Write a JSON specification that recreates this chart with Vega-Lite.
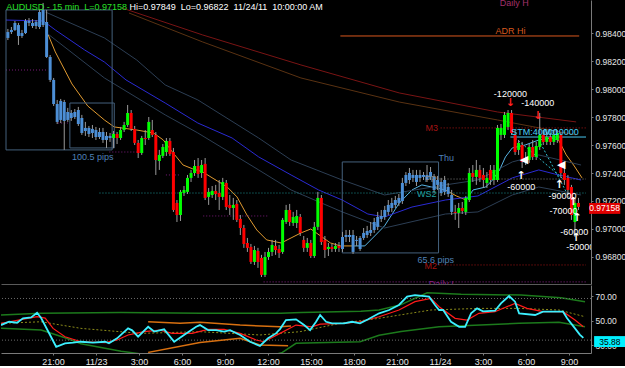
{
"$schema":"https://vega.github.io/schema/vega-lite/v6.json",
"background":"#000000",
"padding":0,
"spacing":1,
"resolve":{"scale":{"x":"independent","y":"independent"}},
"config":{
 "view":{"stroke":null},
 "axis":{"labelColor":"#e6e6e6","labelFont":"Liberation Sans","labelFontSize":9,"domainColor":"#7a7a7a","tickColor":"#7a7a7a","grid":false,"title":null},
 "text":{"font":"Liberation Sans","fontSize":9}
},
"datasets":{
"cd":[
{"t":"2011-11-22T17:30Z","o":0.98365,"h":0.98429,"l":0.98350,"c":0.98407,"a":1},
{"t":"2011-11-22T17:45Z","o":0.98407,"h":0.98443,"l":0.98393,"c":0.98422,"a":1},
{"t":"2011-11-22T18:00Z","o":0.98422,"h":0.98486,"l":0.98415,"c":0.98472,"a":1},
{"t":"2011-11-22T18:15Z","o":0.98457,"h":0.98472,"l":0.98315,"c":0.98379,"a":1},
{"t":"2011-11-22T18:30Z","o":0.98379,"h":0.98422,"l":0.98365,"c":0.98400,"a":1},
{"t":"2011-11-22T18:45Z","o":0.98400,"h":0.98500,"l":0.98393,"c":0.98486,"a":1},
{"t":"2011-11-22T19:00Z","o":0.98486,"h":0.98507,"l":0.98450,"c":0.98472,"a":1},
{"t":"2011-11-22T19:15Z","o":0.98472,"h":0.98500,"l":0.98436,"c":0.98450,"a":1},
{"t":"2011-11-22T19:30Z","o":0.98450,"h":0.98493,"l":0.98429,"c":0.98479,"a":1},
{"t":"2011-11-22T19:45Z","o":0.98443,"h":0.98565,"l":0.98429,"c":0.98550,"a":1},
{"t":"2011-11-22T20:00Z","o":0.98457,"h":0.98615,"l":0.98443,"c":0.98565,"a":1},
{"t":"2011-11-22T20:15Z","o":0.98479,"h":0.98565,"l":0.98222,"c":0.98229,"a":1},
{"t":"2011-11-22T20:30Z","o":0.98229,"h":0.98243,"l":0.98050,"c":0.98065,"a":1},
{"t":"2011-11-22T20:45Z","o":0.98065,"h":0.98079,"l":0.97879,"c":0.97893,"a":1},
{"t":"2011-11-22T21:00Z","o":0.97893,"h":0.97922,"l":0.97750,"c":0.97765,"a":1},
{"t":"2011-11-22T21:15Z","o":0.97779,"h":0.97929,"l":0.97757,"c":0.97915,"a":1},
{"t":"2011-11-22T21:30Z","o":0.97907,"h":0.97922,"l":0.97565,"c":0.97772,"a":1},
{"t":"2011-11-22T21:45Z","o":0.97779,"h":0.97865,"l":0.97765,"c":0.97836,"a":1},
{"t":"2011-11-22T22:00Z","o":0.97829,"h":0.97850,"l":0.97772,"c":0.97793,"a":1},
{"t":"2011-11-22T22:15Z","o":0.97800,"h":0.97857,"l":0.97786,"c":0.97836,"a":1},
{"t":"2011-11-22T22:30Z","o":0.97850,"h":0.97872,"l":0.97736,"c":0.97750,"a":1},
{"t":"2011-11-22T22:45Z","o":0.97793,"h":0.97815,"l":0.97672,"c":0.97686,"a":1},
{"t":"2011-11-22T23:00Z","o":0.97700,"h":0.97765,"l":0.97665,"c":0.97722,"a":1},
{"t":"2011-11-22T23:15Z","o":0.97722,"h":0.97736,"l":0.97657,"c":0.97679,"a":1},
{"t":"2011-11-22T23:30Z","o":0.97686,"h":0.97743,"l":0.97650,"c":0.97715,"a":1},
{"t":"2011-11-22T23:45Z","o":0.97707,"h":0.97729,"l":0.97636,"c":0.97657,"a":1},
{"t":"2011-11-23T00:00Z","o":0.97657,"h":0.97722,"l":0.97643,"c":0.97693,"a":1},
{"t":"2011-11-23T00:15Z","o":0.97693,"h":0.97722,"l":0.97615,"c":0.97636,"a":1},
{"t":"2011-11-23T00:30Z","o":0.97636,"h":0.97693,"l":0.97579,"c":0.97665,"a":1},
{"t":"2011-11-23T00:45Z","o":0.97665,"h":0.97686,"l":0.97622,"c":0.97650,"a":1},
{"t":"2011-11-23T01:00Z","o":0.97650,"h":0.97700,"l":0.97579,"c":0.97679},
{"t":"2011-11-23T01:15Z","o":0.97679,"h":0.97693,"l":0.97607,"c":0.97650},
{"t":"2011-11-23T01:30Z","o":0.97650,"h":0.97729,"l":0.97636,"c":0.97707},
{"t":"2011-11-23T01:45Z","o":0.97707,"h":0.97765,"l":0.97693,"c":0.97743},
{"t":"2011-11-23T02:00Z","o":0.97743,"h":0.97886,"l":0.97729,"c":0.97829},
{"t":"2011-11-23T02:15Z","o":0.97829,"h":0.97850,"l":0.97700,"c":0.97715},
{"t":"2011-11-23T02:30Z","o":0.97715,"h":0.97736,"l":0.97600,"c":0.97615},
{"t":"2011-11-23T02:45Z","o":0.97615,"h":0.97636,"l":0.97507,"c":0.97543},
{"t":"2011-11-23T03:00Z","o":0.97543,"h":0.97665,"l":0.97529,"c":0.97650},
{"t":"2011-11-23T03:15Z","o":0.97650,"h":0.97707,"l":0.97600,"c":0.97643},
{"t":"2011-11-23T03:30Z","o":0.97650,"h":0.97800,"l":0.97636,"c":0.97765},
{"t":"2011-11-23T03:45Z","o":0.97707,"h":0.97779,"l":0.97657,"c":0.97672},
{"t":"2011-11-23T04:00Z","o":0.97672,"h":0.97693,"l":0.97386,"c":0.97493},
{"t":"2011-11-23T04:15Z","o":0.97486,"h":0.97565,"l":0.97422,"c":0.97529},
{"t":"2011-11-23T04:30Z","o":0.97522,"h":0.97607,"l":0.97507,"c":0.97586},
{"t":"2011-11-23T04:45Z","o":0.97550,"h":0.97650,"l":0.97522,"c":0.97629},
{"t":"2011-11-23T05:00Z","o":0.97629,"h":0.97650,"l":0.97522,"c":0.97536},
{"t":"2011-11-23T05:15Z","o":0.97550,"h":0.97579,"l":0.97122,"c":0.97136},
{"t":"2011-11-23T05:30Z","o":0.97186,"h":0.97207,"l":0.97050,"c":0.97100},
{"t":"2011-11-23T05:45Z","o":0.97100,"h":0.97279,"l":0.97057,"c":0.97265},
{"t":"2011-11-23T06:00Z","o":0.97257,"h":0.97307,"l":0.97236,"c":0.97279},
{"t":"2011-11-23T06:15Z","o":0.97265,"h":0.97386,"l":0.97250,"c":0.97365},
{"t":"2011-11-23T06:30Z","o":0.97365,"h":0.97422,"l":0.97336,"c":0.97400},
{"t":"2011-11-23T06:45Z","o":0.97400,"h":0.97493,"l":0.97379,"c":0.97450},
{"t":"2011-11-23T07:00Z","o":0.97450,"h":0.97507,"l":0.97365,"c":0.97393},
{"t":"2011-11-23T07:15Z","o":0.97400,"h":0.97493,"l":0.97365,"c":0.97457},
{"t":"2011-11-23T07:30Z","o":0.97465,"h":0.97507,"l":0.97207,"c":0.97222},
{"t":"2011-11-23T07:45Z","o":0.97229,"h":0.97293,"l":0.97172,"c":0.97265},
{"t":"2011-11-23T08:00Z","o":0.97243,"h":0.97307,"l":0.97222,"c":0.97272},
{"t":"2011-11-23T08:15Z","o":0.97272,"h":0.97315,"l":0.97207,"c":0.97250},
{"t":"2011-11-23T08:30Z","o":0.97257,"h":0.97350,"l":0.97136,"c":0.97229},
{"t":"2011-11-23T08:45Z","o":0.97229,"h":0.97365,"l":0.97207,"c":0.97336},
{"t":"2011-11-23T09:00Z","o":0.97329,"h":0.97350,"l":0.97136,"c":0.97157},
{"t":"2011-11-23T09:15Z","o":0.97172,"h":0.97243,"l":0.97100,"c":0.97150},
{"t":"2011-11-23T09:30Z","o":0.97150,"h":0.97222,"l":0.97065,"c":0.97172},
{"t":"2011-11-23T09:45Z","o":0.97179,"h":0.97207,"l":0.97050,"c":0.97065},
{"t":"2011-11-23T10:00Z","o":0.97072,"h":0.97100,"l":0.96957,"c":0.97007},
{"t":"2011-11-23T10:15Z","o":0.97007,"h":0.97029,"l":0.96865,"c":0.96893},
{"t":"2011-11-23T10:30Z","o":0.96900,"h":0.96936,"l":0.96836,"c":0.96865},
{"t":"2011-11-23T10:45Z","o":0.96872,"h":0.96893,"l":0.96750,"c":0.96765},
{"t":"2011-11-23T11:00Z","o":0.96765,"h":0.96879,"l":0.96743,"c":0.96850},
{"t":"2011-11-23T11:15Z","o":0.96843,"h":0.96865,"l":0.96722,"c":0.96765},
{"t":"2011-11-23T11:30Z","o":0.96793,"h":0.96815,"l":0.96657,"c":0.96672},
{"t":"2011-11-23T11:45Z","o":0.96672,"h":0.96836,"l":0.96657,"c":0.96800},
{"t":"2011-11-23T12:00Z","o":0.96800,"h":0.96865,"l":0.96779,"c":0.96836},
{"t":"2011-11-23T12:15Z","o":0.96836,"h":0.96922,"l":0.96807,"c":0.96886},
{"t":"2011-11-23T12:30Z","o":0.96879,"h":0.96922,"l":0.96815,"c":0.96850},
{"t":"2011-11-23T12:45Z","o":0.96857,"h":0.96886,"l":0.96793,"c":0.96829},
{"t":"2011-11-23T13:00Z","o":0.96836,"h":0.97079,"l":0.96822,"c":0.97065},
{"t":"2011-11-23T13:15Z","o":0.97050,"h":0.97172,"l":0.97036,"c":0.97136},
{"t":"2011-11-23T13:30Z","o":0.97136,"h":0.97179,"l":0.97022,"c":0.97050},
{"t":"2011-11-23T13:45Z","o":0.97043,"h":0.97122,"l":0.97022,"c":0.97086},
{"t":"2011-11-23T14:00Z","o":0.97043,"h":0.97136,"l":0.97007,"c":0.97093},
{"t":"2011-11-23T14:15Z","o":0.97086,"h":0.97107,"l":0.96950,"c":0.96972},
{"t":"2011-11-23T14:30Z","o":0.96922,"h":0.96950,"l":0.96836,"c":0.96865},
{"t":"2011-11-23T14:45Z","o":0.96865,"h":0.96936,"l":0.96836,"c":0.96900},
{"t":"2011-11-23T15:00Z","o":0.96900,"h":0.96922,"l":0.96793,"c":0.96807},
{"t":"2011-11-23T15:15Z","o":0.96807,"h":0.97050,"l":0.96793,"c":0.97015},
{"t":"2011-11-23T15:30Z","o":0.97015,"h":0.97265,"l":0.96993,"c":0.97222},
{"t":"2011-11-23T15:45Z","o":0.97222,"h":0.97243,"l":0.96886,"c":0.96907},
{"t":"2011-11-23T16:00Z","o":0.96922,"h":0.96950,"l":0.96793,"c":0.96850},
{"t":"2011-11-23T16:15Z","o":0.96857,"h":0.96900,"l":0.96807,"c":0.96872},
{"t":"2011-11-23T16:30Z","o":0.96872,"h":0.96893,"l":0.96836,"c":0.96857},
{"t":"2011-11-23T16:45Z","o":0.96857,"h":0.96900,"l":0.96836,"c":0.96879},
{"t":"2011-11-23T17:00Z","o":0.96879,"h":0.96907,"l":0.96836,"c":0.96865},
{"t":"2011-11-23T17:15Z","o":0.96857,"h":0.96979,"l":0.96836,"c":0.96943,"a":1},
{"t":"2011-11-23T17:30Z","o":0.96943,"h":0.96993,"l":0.96907,"c":0.96957,"a":1},
{"t":"2011-11-23T17:45Z","o":0.96957,"h":0.96993,"l":0.96907,"c":0.96943,"a":1},
{"t":"2011-11-23T18:00Z","o":0.96957,"h":0.96993,"l":0.96822,"c":0.96836,"a":1},
{"t":"2011-11-23T18:15Z","o":0.96915,"h":0.96950,"l":0.96879,"c":0.96922,"a":1},
{"t":"2011-11-23T18:30Z","o":0.96857,"h":0.96950,"l":0.96843,"c":0.96936,"a":1},
{"t":"2011-11-23T18:45Z","o":0.96936,"h":0.97007,"l":0.96922,"c":0.96972,"a":1},
{"t":"2011-11-23T19:00Z","o":0.96957,"h":0.97022,"l":0.96936,"c":0.96986,"a":1},
{"t":"2011-11-23T19:15Z","o":0.96972,"h":0.97050,"l":0.96950,"c":0.96993,"a":1},
{"t":"2011-11-23T19:30Z","o":0.96993,"h":0.97079,"l":0.96972,"c":0.97050,"a":1},
{"t":"2011-11-23T19:45Z","o":0.97015,"h":0.97122,"l":0.96993,"c":0.97086,"a":1},
{"t":"2011-11-23T20:00Z","o":0.97072,"h":0.97136,"l":0.97050,"c":0.97093,"a":1},
{"t":"2011-11-23T20:15Z","o":0.97086,"h":0.97165,"l":0.97065,"c":0.97136,"a":1},
{"t":"2011-11-23T20:30Z","o":0.97122,"h":0.97207,"l":0.97100,"c":0.97172,"a":1},
{"t":"2011-11-23T20:45Z","o":0.97150,"h":0.97222,"l":0.97122,"c":0.97186,"a":1},
{"t":"2011-11-23T21:00Z","o":0.97172,"h":0.97236,"l":0.97150,"c":0.97207,"a":1},
{"t":"2011-11-23T21:15Z","o":0.97186,"h":0.97250,"l":0.97165,"c":0.97222,"a":1},
{"t":"2011-11-23T21:30Z","o":0.97200,"h":0.97365,"l":0.97179,"c":0.97329,"a":1},
{"t":"2011-11-23T21:45Z","o":0.97329,"h":0.97407,"l":0.97307,"c":0.97386,"a":1},
{"t":"2011-11-23T22:00Z","o":0.97350,"h":0.97436,"l":0.97322,"c":0.97400,"a":1},
{"t":"2011-11-23T22:15Z","o":0.97386,"h":0.97422,"l":0.97336,"c":0.97365,"a":1},
{"t":"2011-11-23T22:30Z","o":0.97386,"h":0.97422,"l":0.97307,"c":0.97336,"a":1},
{"t":"2011-11-23T22:45Z","o":0.97365,"h":0.97422,"l":0.97336,"c":0.97386,"a":1},
{"t":"2011-11-23T23:00Z","o":0.97386,"h":0.97407,"l":0.97350,"c":0.97372,"a":1},
{"t":"2011-11-23T23:15Z","o":0.97350,"h":0.97457,"l":0.97336,"c":0.97386,"a":1},
{"t":"2011-11-23T23:30Z","o":0.97407,"h":0.97443,"l":0.97350,"c":0.97372,"a":1},
{"t":"2011-11-23T23:45Z","o":0.97372,"h":0.97393,"l":0.97257,"c":0.97279,"a":1},
{"t":"2011-11-24T00:00Z","o":0.97315,"h":0.97379,"l":0.97279,"c":0.97350,"a":1},
{"t":"2011-11-24T00:15Z","o":0.97336,"h":0.97365,"l":0.97236,"c":0.97257,"a":1},
{"t":"2011-11-24T00:30Z","o":0.97265,"h":0.97379,"l":0.97243,"c":0.97350,"a":1},
{"t":"2011-11-24T00:45Z","o":0.97300,"h":0.97329,"l":0.97229,"c":0.97250,"a":1},
{"t":"2011-11-24T01:00Z","o":0.97243,"h":0.97279,"l":0.97100,"c":0.97122,"a":1},
{"t":"2011-11-24T01:15Z","o":0.97122,"h":0.97172,"l":0.97065,"c":0.97115},
{"t":"2011-11-24T01:30Z","o":0.97115,"h":0.97186,"l":0.97007,"c":0.97150},
{"t":"2011-11-24T01:45Z","o":0.97150,"h":0.97193,"l":0.97107,"c":0.97129},
{"t":"2011-11-24T02:00Z","o":0.97122,"h":0.97236,"l":0.97100,"c":0.97222},
{"t":"2011-11-24T02:15Z","o":0.97207,"h":0.97436,"l":0.97193,"c":0.97400},
{"t":"2011-11-24T02:30Z","o":0.97400,"h":0.97457,"l":0.97336,"c":0.97372},
{"t":"2011-11-24T02:45Z","o":0.97372,"h":0.97493,"l":0.97315,"c":0.97422},
{"t":"2011-11-24T03:00Z","o":0.97422,"h":0.97457,"l":0.97336,"c":0.97365},
{"t":"2011-11-24T03:15Z","o":0.97386,"h":0.97436,"l":0.97293,"c":0.97350},
{"t":"2011-11-24T03:30Z","o":0.97329,"h":0.97407,"l":0.97293,"c":0.97365},
{"t":"2011-11-24T03:45Z","o":0.97422,"h":0.97457,"l":0.97315,"c":0.97350},
{"t":"2011-11-24T04:00Z","o":0.97350,"h":0.97457,"l":0.97315,"c":0.97422},
{"t":"2011-11-24T04:15Z","o":0.97350,"h":0.97743,"l":0.97336,"c":0.97722},
{"t":"2011-11-24T04:30Z","o":0.97672,"h":0.97750,"l":0.97636,"c":0.97722},
{"t":"2011-11-24T04:45Z","o":0.97672,"h":0.97836,"l":0.97650,"c":0.97815},
{"t":"2011-11-24T05:00Z","o":0.97729,"h":0.97850,"l":0.97707,"c":0.97829},
{"t":"2011-11-24T05:15Z","o":0.97829,"h":0.97850,"l":0.97672,"c":0.97686},
{"t":"2011-11-24T05:30Z","o":0.97672,"h":0.97707,"l":0.97529,"c":0.97550},
{"t":"2011-11-24T05:45Z","o":0.97565,"h":0.97636,"l":0.97529,"c":0.97615},
{"t":"2011-11-24T06:00Z","o":0.97600,"h":0.97622,"l":0.97436,"c":0.97479},
{"t":"2011-11-24T06:15Z","o":0.97507,"h":0.97550,"l":0.97457,"c":0.97479},
{"t":"2011-11-24T06:30Z","o":0.97493,"h":0.97607,"l":0.97472,"c":0.97586},
{"t":"2011-11-24T06:45Z","o":0.97586,"h":0.97636,"l":0.97493,"c":0.97515},
{"t":"2011-11-24T07:00Z","o":0.97515,"h":0.97622,"l":0.97493,"c":0.97593},
{"t":"2011-11-24T07:15Z","o":0.97586,"h":0.97829,"l":0.97565,"c":0.97672},
{"t":"2011-11-24T07:30Z","o":0.97672,"h":0.97707,"l":0.97600,"c":0.97622},
{"t":"2011-11-24T07:45Z","o":0.97622,"h":0.97693,"l":0.97600,"c":0.97657},
{"t":"2011-11-24T08:00Z","o":0.97657,"h":0.97686,"l":0.97600,"c":0.97622},
{"t":"2011-11-24T08:15Z","o":0.97622,"h":0.97707,"l":0.97600,"c":0.97672},
{"t":"2011-11-24T08:30Z","o":0.97636,"h":0.97707,"l":0.97615,"c":0.97686},
{"t":"2011-11-24T08:45Z","o":0.97672,"h":0.97693,"l":0.97365,"c":0.97400},
{"t":"2011-11-24T09:00Z","o":0.97400,"h":0.97436,"l":0.97315,"c":0.97350},
{"t":"2011-11-24T09:15Z","o":0.97365,"h":0.97386,"l":0.97243,"c":0.97279},
{"t":"2011-11-24T09:30Z","o":0.97300,"h":0.97315,"l":0.97065,"c":0.97100},
{"t":"2011-11-24T09:45Z","o":0.97050,"h":0.97207,"l":0.96943,"c":0.97186},
{"t":"2011-11-24T10:00Z","o":0.97186,"h":0.97222,"l":0.97136,"c":0.97158}
],
"ma":[
{"t":"2011-11-22T20:22Z","p":0.98386,"s":"ora","g":"o1"},
{"t":"2011-11-22T20:52Z","p":0.98265,"s":"ora","g":"o1"},
{"t":"2011-11-22T22:03Z","p":0.98036,"s":"ora","g":"o1"},
{"t":"2011-11-22T23:10Z","p":0.97879,"s":"ora","g":"o1"},
{"t":"2011-11-23T00:21Z","p":0.97779,"s":"ora","g":"o1"},
{"t":"2011-11-23T01:03Z","p":0.97729,"s":"ora","g":"o1"},
{"t":"2011-11-23T02:39Z","p":0.97707,"s":"ora","g":"o1"},
{"t":"2011-11-23T03:50Z","p":0.97686,"s":"ora","g":"o1"},
{"t":"2011-11-23T04:32Z","p":0.97636,"s":"ora","g":"o1"},
{"t":"2011-11-23T05:14Z","p":0.97543,"s":"ora","g":"o1"},
{"t":"2011-11-23T05:56Z","p":0.97457,"s":"ora","g":"o1"},
{"t":"2011-11-23T06:38Z","p":0.97429,"s":"ora","g":"o1"},
{"t":"2011-11-23T07:20Z","p":0.97407,"s":"ora","g":"o1"},
{"t":"2011-11-23T08:22Z","p":0.97343,"s":"ora","g":"o1"},
{"t":"2011-11-23T09:04Z","p":0.97300,"s":"ora","g":"o1"},
{"t":"2011-11-23T09:46Z","p":0.97229,"s":"ora","g":"o1"},
{"t":"2011-11-23T10:28Z","p":0.97100,"s":"ora","g":"o1"},
{"t":"2011-11-23T11:10Z","p":0.96993,"s":"ora","g":"o1"},
{"t":"2011-11-23T11:52Z","p":0.96922,"s":"ora","g":"o1"},
{"t":"2011-11-23T12:54Z","p":0.96900,"s":"ora","g":"o1"},
{"t":"2011-11-23T13:36Z","p":0.96936,"s":"ora","g":"o1"},
{"t":"2011-11-23T14:18Z","p":0.96972,"s":"ora","g":"o1"},
{"t":"2011-11-23T15:00Z","p":0.97000,"s":"ora","g":"o1"},
{"t":"2011-11-23T15:42Z","p":0.96950,"s":"ora","g":"o1"},
{"t":"2011-11-23T16:24Z","p":0.96900,"s":"ora","g":"o1"},
{"t":"2011-11-23T17:06Z","p":0.96879,"s":"ora","g":"o1"},
{"t":"2011-11-23T18:08Z","p":0.96879,"s":"ora","g":"o1"},
{"t":"2011-11-23T18:08Z","p":0.96879,"s":"ltb","g":"l1"},
{"t":"2011-11-23T18:50Z","p":0.96879,"s":"ltb","g":"l1"},
{"t":"2011-11-23T19:32Z","p":0.96950,"s":"ltb","g":"l1"},
{"t":"2011-11-23T20:14Z","p":0.97022,"s":"ltb","g":"l1"},
{"t":"2011-11-23T21:17Z","p":0.97186,"s":"ltb","g":"l1"},
{"t":"2011-11-23T22:11Z","p":0.97279,"s":"ltb","g":"l1"},
{"t":"2011-11-23T22:53Z","p":0.97315,"s":"ltb","g":"l1"},
{"t":"2011-11-23T23:35Z","p":0.97300,"s":"ltb","g":"l1"},
{"t":"2011-11-24T00:33Z","p":0.97279,"s":"ltb","g":"l1"},
{"t":"2011-11-24T00:33Z","p":0.97279,"s":"ora","g":"o2"},
{"t":"2011-11-24T01:20Z","p":0.97236,"s":"ora","g":"o2"},
{"t":"2011-11-24T02:01Z","p":0.97207,"s":"ora","g":"o2"},
{"t":"2011-11-24T02:01Z","p":0.97207,"s":"ltb","g":"l2"},
{"t":"2011-11-24T02:31Z","p":0.97279,"s":"ltb","g":"l2"},
{"t":"2011-11-24T03:25Z","p":0.97300,"s":"ltb","g":"l2"},
{"t":"2011-11-24T03:54Z","p":0.97350,"s":"ltb","g":"l2"},
{"t":"2011-11-24T04:24Z","p":0.97422,"s":"ltb","g":"l2"},
{"t":"2011-11-24T04:49Z","p":0.97515,"s":"ltb","g":"l2"},
{"t":"2011-11-24T05:18Z","p":0.97579,"s":"ltb","g":"l2"},
{"t":"2011-11-24T06:13Z","p":0.97600,"s":"ltb","g":"l2"},
{"t":"2011-11-24T07:11Z","p":0.97636,"s":"ltb","g":"l2"},
{"t":"2011-11-24T08:06Z","p":0.97650,"s":"ltb","g":"l2"},
{"t":"2011-11-24T08:35Z","p":0.97636,"s":"ltb","g":"l2"},
{"t":"2011-11-24T08:35Z","p":0.97636,"s":"ora","g":"o3"},
{"t":"2011-11-24T09:08Z","p":0.97529,"s":"ora","g":"o3"},
{"t":"2011-11-24T09:42Z","p":0.97450,"s":"ora","g":"o3"},
{"t":"2011-11-24T10:15Z","p":0.97365,"s":"ora","g":"o3"},
{"t":"2011-11-22T17:22Z","p":0.98493,"s":"blu","g":"b"},
{"t":"2011-11-22T20:01Z","p":0.98486,"s":"blu","g":"b"},
{"t":"2011-11-22T20:52Z","p":0.98422,"s":"blu","g":"b"},
{"t":"2011-11-22T22:57Z","p":0.98279,"s":"blu","g":"b"},
{"t":"2011-11-23T00:21Z","p":0.98193,"s":"blu","g":"b"},
{"t":"2011-11-23T01:53Z","p":0.98065,"s":"blu","g":"b"},
{"t":"2011-11-23T04:40Z","p":0.97900,"s":"blu","g":"b"},
{"t":"2011-11-23T06:59Z","p":0.97757,"s":"blu","g":"b"},
{"t":"2011-11-23T09:25Z","p":0.97650,"s":"blu","g":"b"},
{"t":"2011-11-23T11:18Z","p":0.97515,"s":"blu","g":"b"},
{"t":"2011-11-23T13:36Z","p":0.97386,"s":"blu","g":"b"},
{"t":"2011-11-23T15:33Z","p":0.97279,"s":"blu","g":"b"},
{"t":"2011-11-23T17:14Z","p":0.97207,"s":"blu","g":"b"},
{"t":"2011-11-23T19:03Z","p":0.97107,"s":"blu","g":"b"},
{"t":"2011-11-23T20:14Z","p":0.97086,"s":"blu","g":"b"},
{"t":"2011-11-23T22:11Z","p":0.97157,"s":"blu","g":"b"},
{"t":"2011-11-24T00:33Z","p":0.97207,"s":"blu","g":"b"},
{"t":"2011-11-24T02:52Z","p":0.97236,"s":"blu","g":"b"},
{"t":"2011-11-24T05:18Z","p":0.97365,"s":"blu","g":"b"},
{"t":"2011-11-24T07:11Z","p":0.97422,"s":"blu","g":"b"},
{"t":"2011-11-24T08:18Z","p":0.97393,"s":"blu","g":"b"},
{"t":"2011-11-24T10:11Z","p":0.97350,"s":"blu","g":"b"},
{"t":"2011-11-22T20:10Z","p":0.98550,"s":"env","g":"eu"},
{"t":"2011-11-23T00:21Z","p":0.98365,"s":"env","g":"eu"},
{"t":"2011-11-23T02:39Z","p":0.98207,"s":"env","g":"eu"},
{"t":"2011-11-23T04:40Z","p":0.98029,"s":"env","g":"eu"},
{"t":"2011-11-23T06:59Z","p":0.97922,"s":"env","g":"eu"},
{"t":"2011-11-23T11:18Z","p":0.97650,"s":"env","g":"eu"},
{"t":"2011-11-23T13:36Z","p":0.97493,"s":"env","g":"eu"},
{"t":"2011-11-23T17:14Z","p":0.97350,"s":"env","g":"eu"},
{"t":"2011-11-23T20:14Z","p":0.97243,"s":"env","g":"eu"},
{"t":"2011-11-24T00:33Z","p":0.97315,"s":"env","g":"eu"},
{"t":"2011-11-24T02:52Z","p":0.97350,"s":"env","g":"eu"},
{"t":"2011-11-24T05:18Z","p":0.97479,"s":"env","g":"eu"},
{"t":"2011-11-24T07:11Z","p":0.97529,"s":"env","g":"eu"},
{"t":"2011-11-24T10:11Z","p":0.97457,"s":"env","g":"eu"},
{"t":"2011-11-22T20:10Z","p":0.98407,"s":"env","g":"el"},
{"t":"2011-11-23T00:21Z","p":0.98079,"s":"env","g":"el"},
{"t":"2011-11-23T04:40Z","p":0.97815,"s":"env","g":"el"},
{"t":"2011-11-23T06:59Z","p":0.97686,"s":"env","g":"el"},
{"t":"2011-11-23T11:18Z","p":0.97422,"s":"env","g":"el"},
{"t":"2011-11-23T13:36Z","p":0.97279,"s":"env","g":"el"},
{"t":"2011-11-23T17:14Z","p":0.97122,"s":"env","g":"el"},
{"t":"2011-11-23T20:14Z","p":0.97007,"s":"env","g":"el"},
{"t":"2011-11-24T00:33Z","p":0.97107,"s":"env","g":"el"},
{"t":"2011-11-24T02:52Z","p":0.97122,"s":"env","g":"el"},
{"t":"2011-11-24T05:18Z","p":0.97243,"s":"env","g":"el"},
{"t":"2011-11-24T07:11Z","p":0.97300,"s":"env","g":"el"},
{"t":"2011-11-24T10:11Z","p":0.97243,"s":"env","g":"el"},
{"t":"2011-11-23T01:36Z","p":0.98579,"s":"dred","g":"dr"},
{"t":"2011-11-23T07:20Z","p":0.98386,"s":"dred","g":"dr"},
{"t":"2011-11-23T14:18Z","p":0.98172,"s":"dred","g":"dr"},
{"t":"2011-11-23T21:17Z","p":0.97972,"s":"dred","g":"dr"},
{"t":"2011-11-24T04:15Z","p":0.97836,"s":"dred","g":"dr"},
{"t":"2011-11-24T09:50Z","p":0.97765,"s":"dred","g":"dr"},
{"t":"2011-11-23T02:06Z","p":0.98543,"s":"brn","g":"br"},
{"t":"2011-11-23T07:20Z","p":0.98336,"s":"brn","g":"br"},
{"t":"2011-11-23T14:18Z","p":0.98079,"s":"brn","g":"br"},
{"t":"2011-11-23T21:17Z","p":0.97907,"s":"brn","g":"br"},
{"t":"2011-11-24T04:15Z","p":0.97779,"s":"brn","g":"br"},
{"t":"2011-11-24T09:50Z","p":0.97672,"s":"brn","g":"br"}
],
"lvs":[
{"t":"2011-11-23T17:06Z","t2":"2011-11-24T10:03Z","p":0.98379,"k":"adr"},
{"t":"2011-11-24T05:10Z","t2":"2011-11-24T10:32Z","p":0.97657,"k":"stm"}
],
"lvd":[
{"t":"2011-11-24T00:13Z","t2":"2011-11-24T10:32Z","p":0.97722,"k":"m3"},
{"t":"2011-11-24T00:04Z","t2":"2011-11-24T10:32Z","p":0.97357,"k":"pp"},
{"t":"2011-11-23T00:00Z","t2":"2011-11-24T10:32Z","p":0.97257,"k":"ws2"},
{"t":"2011-11-24T00:04Z","t2":"2011-11-24T10:32Z","p":0.96743,"k":"m3"},
{"t":"2011-11-23T11:39Z","t2":"2011-11-24T10:32Z","p":0.96622,"k":"dl"},
{"t":"2011-11-22T17:22Z","t2":"2011-11-22T20:18Z","p":0.98136,"k":"pur"},
{"t":"2011-11-22T21:04Z","t2":"2011-11-22T21:46Z","p":0.97757,"k":"pur"},
{"t":"2011-11-23T00:42Z","t2":"2011-11-23T02:47Z","p":0.97550,"k":"pur"},
{"t":"2011-11-23T04:43Z","t2":"2011-11-23T05:41Z","p":0.97386,"k":"pur"},
{"t":"2011-11-23T07:22Z","t2":"2011-11-23T11:58Z","p":0.97093,"k":"pur"}
],
"cyd":[
{"t":"2011-11-24T05:31Z","p":0.97650,"g":"a"},
{"t":"2011-11-24T09:00Z","p":0.97350,"g":"a"},
{"t":"2011-11-24T07:11Z","p":0.97636,"g":"b"},
{"t":"2011-11-24T09:42Z","p":0.97157,"g":"b"}
],
"bx":[
{"t":"2011-11-22T17:22Z","t2":"2011-11-23T00:54Z","p":0.98565,"p2":0.97565},
{"t":"2011-11-22T21:54Z","t2":"2011-11-23T01:03Z","p":0.97900,"p2":0.97579},
{"t":"2011-11-23T17:14Z","t2":"2011-11-24T00:04Z","p":0.97479,"p2":0.96829}
],
"txc":[
{"t":"2011-11-24T05:10Z","p":0.98415,"label":"ADR Hi","k":"adr"},
{"t":"2011-11-24T05:26Z","p":0.98615,"label":"Daily H","k":"pk"},
{"t":"2011-11-23T23:35Z","p":0.97722,"label":"M3","k":"m3"},
{"t":"2011-11-23T23:31Z","p":0.97357,"label":"PP","k":"pp"},
{"t":"2011-11-23T23:14Z","p":0.97250,"label":"WS2","k":"ws2"},
{"t":"2011-11-23T23:31Z","p":0.96736,"label":"M2","k":"m3"},
{"t":"2011-11-24T00:21Z","p":0.96607,"label":"Daily L","k":"dl"},
{"t":"2011-11-22T23:31Z","p":0.97515,"label":"100.5 pips","k":"sb"},
{"t":"2011-11-23T23:52Z","p":0.96779,"label":"65.6 pips","k":"sb"},
{"t":"2011-11-24T05:10Z","p":0.97965,"label":"-120000","k":"w"},
{"t":"2011-11-24T07:07Z","p":0.97900,"label":"-140000","k":"w"},
{"t":"2011-11-24T05:56Z","p":0.97300,"label":"-60000","k":"w"},
{"t":"2011-11-24T08:52Z","p":0.97236,"label":"-90000","k":"w"},
{"t":"2011-11-24T08:56Z","p":0.97129,"label":"-70000","k":"w"},
{"t":"2011-11-24T09:42Z","p":0.96979,"label":"-60000","k":"w"}
],
"txl":[
{"t":"2011-11-22T17:23Z","p":0.98586,"label":"AUDUSD - 15 min\u00a0\u00a0L=0.97158","k":"hg"},
{"t":"2011-11-23T02:08Z","p":0.98586,"label":"Hi=0.97849\u00a0\u00a0Lo=0.96822\u00a0\u00a011/24/11\u00a0\u00a010:00:00 AM","k":"w"},
{"t":"2011-11-24T00:04Z","p":0.97507,"label":"Thu","k":"sb"},
{"t":"2011-11-24T05:14Z","p":0.97693,"label":"STM:40000","k":"cy"},
{"t":"2011-11-24T07:32Z","p":0.97693,"label":"M:10000","k":"cy"},
{"t":"2011-11-24T09:08Z","p":0.96872,"label":"-50000","k":"w"}
],
"arr":[
{"t":"2011-11-24T05:10Z","p":0.97900,"label":"↓","k":"rd"},
{"t":"2011-11-24T07:07Z","p":0.97807,"label":"↓","k":"rd"},
{"t":"2011-11-24T05:56Z","p":0.97379,"label":"↑","k":"w"},
{"t":"2011-11-24T08:39Z","p":0.97315,"label":"↑","k":"w"},
{"t":"2011-11-24T09:38Z","p":0.97193,"label":"↑","k":"w"},
{"t":"2011-11-24T09:54Z","p":0.97079,"label":"↑","k":"w"},
{"t":"2011-11-24T09:50Z","p":0.96936,"label":"↑","k":"w"},
{"t":"2011-11-24T06:08Z","p":0.97493,"label":"◀","k":"w"},
{"t":"2011-11-24T08:47Z","p":0.97457,"label":"◀","k":"w"}
],
"cur":[{"t":"2011-11-24T10:45Z","t2":"2011-11-24T12:58Z","tc":"2011-11-24T11:51Z","p":0.97186,"p2":0.97108,"pc":0.97147,"label":"0.97158"}],
"ocur":[{"t":"2011-11-24T10:45Z","t2":"2011-11-24T12:58Z","tc":"2011-11-24T11:51Z","p":37.3,"p2":28.4,"pc":32.8,"label":"35.88"}],
"og":[{"p":68},{"p":34}],
"obg":[
{"t":"2011-11-22T17:22Z","p":54.5,"g":"u"},{"t":"2011-11-22T20:10Z","p":55.9,"g":"u"},{"t":"2011-11-23T01:45Z","p":56.5,"g":"u"},{"t":"2011-11-23T07:20Z","p":56.0,"g":"u"},{"t":"2011-11-23T12:54Z","p":55.9,"g":"u"},{"t":"2011-11-23T14:18Z","p":56.5,"g":"u"},{"t":"2011-11-23T18:29Z","p":57.5,"g":"u"},{"t":"2011-11-23T19:45Z","p":58.6,"g":"u"},{"t":"2011-11-23T21:17Z","p":63.0,"g":"u"},{"t":"2011-11-23T23:06Z","p":72.7,"g":"u"},{"t":"2011-11-24T01:28Z","p":71.5,"g":"u"},{"t":"2011-11-24T05:39Z","p":70.8,"g":"u"},{"t":"2011-11-24T08:26Z","p":68.5,"g":"u"},{"t":"2011-11-24T10:07Z","p":65.4,"g":"u"},
{"t":"2011-11-22T17:22Z","p":43.6,"g":"l"},{"t":"2011-11-22T20:10Z","p":42.2,"g":"l"},{"t":"2011-11-22T21:50Z","p":36.0,"g":"l"},{"t":"2011-11-22T22:57Z","p":31.0,"g":"l"},{"t":"2011-11-23T01:45Z","p":25.0,"g":"l"},{"t":"2011-11-23T04:11Z","p":21.0,"g":"l"},{"t":"2011-11-23T07:20Z","p":17.0,"g":"l"},{"t":"2011-11-23T11:00Z","p":17.0,"g":"l"},{"t":"2011-11-23T13:00Z","p":24.0,"g":"l"},{"t":"2011-11-23T13:57Z","p":31.4,"g":"l"},{"t":"2011-11-23T18:25Z","p":32.7,"g":"l"},{"t":"2011-11-23T19:45Z","p":38.0,"g":"l"},{"t":"2011-11-23T21:17Z","p":41.0,"g":"l"},{"t":"2011-11-23T23:56Z","p":44.9,"g":"l"},{"t":"2011-11-24T05:31Z","p":47.7,"g":"l"},{"t":"2011-11-24T08:18Z","p":48.5,"g":"l"},{"t":"2011-11-24T10:07Z","p":45.0,"g":"l"}
],
"obo":[
{"t":"2011-11-23T03:38Z","p":49.0,"g":"u"},{"t":"2011-11-23T05:52Z","p":47.7,"g":"u"},{"t":"2011-11-23T07:15Z","p":48.5,"g":"u"},{"t":"2011-11-23T10:03Z","p":46.3,"g":"u"},{"t":"2011-11-23T12:50Z","p":44.9,"g":"u"},{"t":"2011-11-23T13:36Z","p":45.5,"g":"u"},
{"t":"2011-11-23T03:38Z","p":24.0,"g":"l"},{"t":"2011-11-23T07:15Z","p":32.0,"g":"l"},{"t":"2011-11-23T10:03Z","p":35.5,"g":"l"},{"t":"2011-11-23T11:26Z","p":30.0,"g":"l"},{"t":"2011-11-23T13:24Z","p":29.5,"g":"l"}
],
"om":[
{"t":"2011-11-22T17:22Z","p":47.7},{"t":"2011-11-22T20:10Z","p":49.0},{"t":"2011-11-22T22:57Z","p":43.6},{"t":"2011-11-23T03:04Z","p":39.5},{"t":"2011-11-23T07:15Z","p":40.9},{"t":"2011-11-23T11:26Z","p":38.2},{"t":"2011-11-23T14:14Z","p":40.9},{"t":"2011-11-23T17:01Z","p":47.7},{"t":"2011-11-23T19:45Z","p":51.8},{"t":"2011-11-23T23:22Z","p":58.6},{"t":"2011-11-24T02:43Z","p":59.9},{"t":"2011-11-24T05:31Z","p":59.9},{"t":"2011-11-24T08:18Z","p":58.6},{"t":"2011-11-24T10:07Z","p":53.1}
],
"osig":[
{"t":"2011-11-22T17:22Z","p":47.7},{"t":"2011-11-22T19:53Z","p":53.1},{"t":"2011-11-22T20:27Z","p":52.0},{"t":"2011-11-22T21:00Z","p":43.6},{"t":"2011-11-22T21:50Z","p":36.8},{"t":"2011-11-22T22:57Z","p":32.7},{"t":"2011-11-23T00:38Z","p":32.0},{"t":"2011-11-23T01:28Z","p":34.1},{"t":"2011-11-23T02:14Z","p":38.2},{"t":"2011-11-23T03:21Z","p":40.9},{"t":"2011-11-23T04:28Z","p":42.2},{"t":"2011-11-23T05:18Z","p":39.5},{"t":"2011-11-23T06:42Z","p":39.5},{"t":"2011-11-23T07:49Z","p":42.8},{"t":"2011-11-23T08:56Z","p":42.8},{"t":"2011-11-23T10:03Z","p":39.5},{"t":"2011-11-23T11:10Z","p":34.1},{"t":"2011-11-23T11:43Z","p":32.7},{"t":"2011-11-23T12:50Z","p":39.5},{"t":"2011-11-23T13:57Z","p":46.3},{"t":"2011-11-23T15:04Z","p":44.9},{"t":"2011-11-23T15:38Z","p":47.0},{"t":"2011-11-23T17:18Z","p":47.7},{"t":"2011-11-23T18:25Z","p":49.0},{"t":"2011-11-23T19:45Z","p":53.1},{"t":"2011-11-23T21:08Z","p":58.6},{"t":"2011-11-23T22:15Z","p":65.4},{"t":"2011-11-23T23:22Z","p":68.1},{"t":"2011-11-23T23:56Z","p":61.3},{"t":"2011-11-24T01:03Z","p":51.8},{"t":"2011-11-24T01:53Z","p":50.4},{"t":"2011-11-24T02:43Z","p":55.9},{"t":"2011-11-24T03:50Z","p":57.2},{"t":"2011-11-24T05:14Z","p":64.0},{"t":"2011-11-24T06:04Z","p":59.9},{"t":"2011-11-24T07:11Z","p":57.2},{"t":"2011-11-24T08:35Z","p":57.2},{"t":"2011-11-24T09:25Z","p":50.4},{"t":"2011-11-24T10:00Z","p":45.0}
],
"orsi":[
{"t":"2011-11-22T17:22Z","p":46.3},{"t":"2011-11-22T17:56Z","p":49.0},{"t":"2011-11-22T18:29Z","p":48.2},{"t":"2011-11-22T18:54Z","p":51.8},{"t":"2011-11-22T19:28Z","p":52.6},{"t":"2011-11-22T19:53Z","p":56.4},{"t":"2011-11-22T20:10Z","p":52.0},{"t":"2011-11-22T20:43Z","p":39.8},{"t":"2011-11-22T21:13Z","p":28.6},{"t":"2011-11-22T21:50Z","p":31.4},{"t":"2011-11-22T22:24Z","p":31.9},{"t":"2011-11-22T22:57Z","p":32.7},{"t":"2011-11-22T23:47Z","p":32.0},
{"t":"2011-11-23T00:38Z","p":32.7},{"t":"2011-11-23T00:54Z","p":31.4},{"t":"2011-11-23T01:28Z","p":35.5},{"t":"2011-11-23T02:14Z","p":43.6},{"t":"2011-11-23T02:31Z","p":42.0},{"t":"2011-11-23T02:56Z","p":36.8},{"t":"2011-11-23T03:38Z","p":44.9},{"t":"2011-11-23T04:03Z","p":41.0},{"t":"2011-11-23T04:45Z","p":42.8},{"t":"2011-11-23T05:27Z","p":32.7},{"t":"2011-11-23T06:08Z","p":38.2},{"t":"2011-11-23T06:59Z","p":44.9},{"t":"2011-11-23T07:15Z","p":46.3},{"t":"2011-11-23T07:49Z","p":42.2},{"t":"2011-11-23T08:22Z","p":42.2},{"t":"2011-11-23T08:56Z","p":40.9},{"t":"2011-11-23T09:21Z","p":42.2},{"t":"2011-11-23T10:03Z","p":38.2},{"t":"2011-11-23T10:45Z","p":32.7},{"t":"2011-11-23T11:26Z","p":29.2},{"t":"2011-11-23T12:00Z","p":35.5},{"t":"2011-11-23T12:33Z","p":39.5},{"t":"2011-11-23T12:50Z","p":43.0},{"t":"2011-11-23T13:15Z","p":50.4},{"t":"2011-11-23T13:57Z","p":51.0},{"t":"2011-11-23T14:31Z","p":46.3},{"t":"2011-11-23T14:56Z","p":42.2},{"t":"2011-11-23T15:21Z","p":49.0},{"t":"2011-11-23T15:38Z","p":54.5},{"t":"2011-11-23T16:03Z","p":49.0},{"t":"2011-11-23T16:28Z","p":47.7},{"t":"2011-11-23T17:18Z","p":47.7},{"t":"2011-11-23T17:52Z","p":49.0},{"t":"2011-11-23T18:25Z","p":47.7},{"t":"2011-11-23T18:59Z","p":51.0},{"t":"2011-11-23T19:45Z","p":55.9},{"t":"2011-11-23T20:27Z","p":58.6},{"t":"2011-11-23T21:08Z","p":62.7},{"t":"2011-11-23T21:42Z","p":69.5},{"t":"2011-11-23T22:15Z","p":70.8},{"t":"2011-11-23T23:14Z","p":69.5},{"t":"2011-11-23T23:39Z","p":62.7},{"t":"2011-11-23T23:56Z","p":58.6},
{"t":"2011-11-24T00:13Z","p":58.6},{"t":"2011-11-24T00:46Z","p":49.0},{"t":"2011-11-24T01:20Z","p":44.9},{"t":"2011-11-24T01:45Z","p":44.9},{"t":"2011-11-24T02:10Z","p":55.9},{"t":"2011-11-24T02:35Z","p":59.9},{"t":"2011-11-24T03:00Z","p":57.5},{"t":"2011-11-24T03:50Z","p":58.0},{"t":"2011-11-24T04:15Z","p":64.0},{"t":"2011-11-24T04:49Z","p":70.0},{"t":"2011-11-24T05:14Z","p":65.4},{"t":"2011-11-24T05:31Z","p":55.9},{"t":"2011-11-24T06:38Z","p":54.5},{"t":"2011-11-24T07:11Z","p":57.2},{"t":"2011-11-24T08:35Z","p":57.2},{"t":"2011-11-24T08:52Z","p":51.8},{"t":"2011-11-24T09:25Z","p":43.6},{"t":"2011-11-24T09:45Z","p":38.5},{"t":"2011-11-24T10:00Z","p":35.9}
]
},
"vconcat":[
{
 "width":590,"height":284,
 "resolve":{"scale":{"color":"independent"}},
 "layer":[
  {"data":{"name":"ma"},"mark":{"type":"line","strokeWidth":1,"clip":true},
   "encoding":{
    "x":{"field":"t","type":"temporal","scale":{"type":"utc","domain":[{"year":2011,"month":11,"date":22,"hours":17,"minutes":22,"utc":true},{"year":2011,"month":11,"date":24,"hours":10,"minutes":32,"utc":true}]},"axis":{"labels":false,"ticks":false,"domainColor":"#5a5a5a"}},
    "y":{"field":"p","type":"quantitative","scale":{"domain":[0.96607,0.98636],"nice":false,"zero":false},"axis":{"orient":"right","values":[0.968,0.970,0.972,0.974,0.976,0.978,0.980,0.982,0.984],"tickCount":30,"format":".5f","tickSize":2,"labelPadding":2,"labelFontSize":8.5,"labelOverlap":false,"labelBound":false}},
    "color":{"field":"s","type":"nominal","scale":{"domain":["ora","ltb","blu","env","dred","brn"],"range":["#e09a30","#58b4e4","#2a2ad4","#2c3e54","#7a1414","#5a3212"]},"legend":null},
    "detail":{"field":"g"}}},
  {"data":{"name":"lvd"},"mark":{"type":"rule","strokeDash":[1,2],"strokeWidth":1},
   "encoding":{
    "x":{"field":"t","type":"temporal","scale":{"type":"utc","domain":[{"year":2011,"month":11,"date":22,"hours":17,"minutes":22,"utc":true},{"year":2011,"month":11,"date":24,"hours":10,"minutes":32,"utc":true}]}},
    "x2":{"field":"t2"},
    "y":{"field":"p","type":"quantitative","scale":{"domain":[0.96607,0.98636],"nice":false,"zero":false}},
    "color":{"field":"k","type":"nominal","scale":{"domain":["m3","pp","ws2","dl","pur"],"range":["#a51414","#7a7a7a","#1a9090","#8a208a","#7a1a7a"]},"legend":null}}},
  {"data":{"name":"lvs"},"mark":{"type":"rule","strokeWidth":1},
   "encoding":{
    "x":{"field":"t","type":"temporal","scale":{"type":"utc","domain":[{"year":2011,"month":11,"date":22,"hours":17,"minutes":22,"utc":true},{"year":2011,"month":11,"date":24,"hours":10,"minutes":32,"utc":true}]}},
    "x2":{"field":"t2"},
    "y":{"field":"p","type":"quantitative","scale":{"domain":[0.96607,0.98636],"nice":false,"zero":false}},
    "color":{"field":"k","type":"nominal","scale":{"domain":["adr","stm"],"range":["#d9581e","#48c8f0"]},"legend":null}}},
  {"data":{"name":"cyd"},"mark":{"type":"line","strokeDash":[2,2],"color":"#30c0d0","strokeWidth":1},
   "encoding":{
    "x":{"field":"t","type":"temporal","scale":{"type":"utc","domain":[{"year":2011,"month":11,"date":22,"hours":17,"minutes":22,"utc":true},{"year":2011,"month":11,"date":24,"hours":10,"minutes":32,"utc":true}]}},
    "y":{"field":"p","type":"quantitative","scale":{"domain":[0.96607,0.98636],"nice":false,"zero":false}},
    "detail":{"field":"g"}}},
  {"data":{"name":"bx"},"mark":{"type":"rect","fill":"#000000","fillOpacity":0,"stroke":"#44607c","strokeWidth":1,"clip":true},
   "encoding":{
    "x":{"field":"t","type":"temporal","scale":{"type":"utc","domain":[{"year":2011,"month":11,"date":22,"hours":17,"minutes":22,"utc":true},{"year":2011,"month":11,"date":24,"hours":10,"minutes":32,"utc":true}]}},
    "x2":{"field":"t2"},
    "y":{"field":"p","type":"quantitative","scale":{"domain":[0.96607,0.98636],"nice":false,"zero":false}},
    "y2":{"field":"p2"}}},
  {"data":{"name":"cd"},"mark":{"type":"rule","color":"#9a9a9a","strokeWidth":1},
   "encoding":{
    "x":{"field":"t","type":"temporal","scale":{"type":"utc","domain":[{"year":2011,"month":11,"date":22,"hours":17,"minutes":22,"utc":true},{"year":2011,"month":11,"date":24,"hours":10,"minutes":32,"utc":true}]}},
    "y":{"field":"l","type":"quantitative","scale":{"domain":[0.96607,0.98636],"nice":false,"zero":false}},
    "y2":{"field":"h"}}},
  {"data":{"name":"cd"},"mark":{"type":"bar","width":3},
   "encoding":{
    "x":{"field":"t","type":"temporal","scale":{"type":"utc","domain":[{"year":2011,"month":11,"date":22,"hours":17,"minutes":22,"utc":true},{"year":2011,"month":11,"date":24,"hours":10,"minutes":32,"utc":true}]}},
    "y":{"field":"o","type":"quantitative","scale":{"domain":[0.96607,0.98636],"nice":false,"zero":false}},
    "y2":{"field":"c"},
    "color":{"condition":[{"test":"datum.a==1","value":"#4d8fd6"},{"test":"datum.c>=datum.o","value":"#00ff00"}],"value":"#ff0000"}}},
  {"data":{"name":"txc"},"mark":{"type":"text","align":"center","baseline":"middle","clip":true},
   "encoding":{
    "x":{"field":"t","type":"temporal","scale":{"type":"utc","domain":[{"year":2011,"month":11,"date":22,"hours":17,"minutes":22,"utc":true},{"year":2011,"month":11,"date":24,"hours":10,"minutes":32,"utc":true}]}},
    "y":{"field":"p","type":"quantitative","scale":{"domain":[0.96607,0.98636],"nice":false,"zero":false}},
    "text":{"field":"label"},
    "color":{"field":"k","type":"nominal","scale":{"domain":["w","cy","sb","hg","rd","pk","adr","m3","pp","ws2","dl"],"range":["#ffffff","#48d0f8","#4f80b8","#28e028","#ff2020","#a0306a","#d9581e","#a51414","#8a8a8a","#20a0a0","#8a208a"]},"legend":null}}},
  {"data":{"name":"txl"},"mark":{"type":"text","align":"left","baseline":"middle","clip":true},
   "encoding":{
    "x":{"field":"t","type":"temporal","scale":{"type":"utc","domain":[{"year":2011,"month":11,"date":22,"hours":17,"minutes":22,"utc":true},{"year":2011,"month":11,"date":24,"hours":10,"minutes":32,"utc":true}]}},
    "y":{"field":"p","type":"quantitative","scale":{"domain":[0.96607,0.98636],"nice":false,"zero":false}},
    "text":{"field":"label"},
    "color":{"field":"k","type":"nominal","scale":{"domain":["w","cy","sb","hg"],"range":["#ffffff","#48d0f8","#4f80b8","#28e028"]},"legend":null}}},
  {"data":{"name":"arr"},"mark":{"type":"text","align":"center","baseline":"middle","fontSize":11,"fontWeight":"bold","font":"DejaVu Sans"},
   "encoding":{
    "x":{"field":"t","type":"temporal","scale":{"type":"utc","domain":[{"year":2011,"month":11,"date":22,"hours":17,"minutes":22,"utc":true},{"year":2011,"month":11,"date":24,"hours":10,"minutes":32,"utc":true}]}},
    "y":{"field":"p","type":"quantitative","scale":{"domain":[0.96607,0.98636],"nice":false,"zero":false}},
    "text":{"field":"label"},
    "color":{"field":"k","type":"nominal","scale":{"domain":["w","rd"],"range":["#ffffff","#ff2020"]},"legend":null}}},
  {"data":{"name":"cur"},"mark":{"type":"rect","fill":"#e00000"},
   "encoding":{
    "x":{"field":"t","type":"temporal","scale":{"type":"utc","domain":[{"year":2011,"month":11,"date":22,"hours":17,"minutes":22,"utc":true},{"year":2011,"month":11,"date":24,"hours":10,"minutes":32,"utc":true}]}},
    "x2":{"field":"t2"},
    "y":{"field":"p","type":"quantitative","scale":{"domain":[0.96607,0.98636],"nice":false,"zero":false}},
    "y2":{"field":"p2"}}},
  {"data":{"name":"cur"},"mark":{"type":"text","align":"center","baseline":"middle","color":"#ffffff","fontSize":8.5},
   "encoding":{
    "x":{"field":"tc","type":"temporal","scale":{"type":"utc","domain":[{"year":2011,"month":11,"date":22,"hours":17,"minutes":22,"utc":true},{"year":2011,"month":11,"date":24,"hours":10,"minutes":32,"utc":true}]}},
    "y":{"field":"pc","type":"quantitative","scale":{"domain":[0.96607,0.98636],"nice":false,"zero":false}},
    "text":{"field":"label"}}}
 ]
},
{
 "width":590,"height":68,
 "layer":[
  {"data":{"name":"obg"},"mark":{"type":"line","color":"#1c7a1c","strokeWidth":1.5,"clip":true},
   "encoding":{
    "x":{"field":"t","type":"temporal","scale":{"type":"utc","domain":[{"year":2011,"month":11,"date":22,"hours":17,"minutes":22,"utc":true},{"year":2011,"month":11,"date":24,"hours":10,"minutes":32,"utc":true}]},
     "axis":{"values":[{"year":2011,"month":11,"date":22,"hours":21,"utc":true},{"year":2011,"month":11,"date":23,"hours":0,"utc":true},{"year":2011,"month":11,"date":23,"hours":3,"utc":true},{"year":2011,"month":11,"date":23,"hours":6,"utc":true},{"year":2011,"month":11,"date":23,"hours":9,"utc":true},{"year":2011,"month":11,"date":23,"hours":12,"utc":true},{"year":2011,"month":11,"date":23,"hours":15,"utc":true},{"year":2011,"month":11,"date":23,"hours":18,"utc":true},{"year":2011,"month":11,"date":23,"hours":21,"utc":true},{"year":2011,"month":11,"date":24,"hours":0,"utc":true},{"year":2011,"month":11,"date":24,"hours":3,"utc":true},{"year":2011,"month":11,"date":24,"hours":6,"utc":true},{"year":2011,"month":11,"date":24,"hours":9,"utc":true}],
      "tickCount":40,"labelExpr":"utcFormat(datum.value,'%H')=='00'?utcFormat(datum.value,'%m/%d'):utcFormat(datum.value,'%-H:%M')","tickSize":2,"labelPadding":2,"labelOverlap":false}},
    "y":{"field":"p","type":"quantitative","scale":{"domain":[23.5,79.0],"nice":false,"zero":false},"axis":{"orient":"right","values":[30,50,70],"tickCount":10,"format":".2f","tickSize":2,"labelPadding":2,"labelFontSize":8.5,"labelOverlap":false,"labelBound":false}},
    "detail":{"field":"g"}}},
  {"data":{"name":"og"},"mark":{"type":"rule","strokeDash":[1,2],"color":"#6a6a6a"},
   "encoding":{"y":{"field":"p","type":"quantitative","scale":{"domain":[23.5,79.0],"nice":false,"zero":false}}}},
  {"data":{"name":"obo"},"mark":{"type":"line","color":"#d87010","strokeWidth":1.5,"clip":true},
   "encoding":{
    "x":{"field":"t","type":"temporal","scale":{"type":"utc","domain":[{"year":2011,"month":11,"date":22,"hours":17,"minutes":22,"utc":true},{"year":2011,"month":11,"date":24,"hours":10,"minutes":32,"utc":true}]}},
    "y":{"field":"p","type":"quantitative","scale":{"domain":[23.5,79.0],"nice":false,"zero":false}},
    "detail":{"field":"g"}}},
  {"data":{"name":"om"},"mark":{"type":"line","color":"#8c8c1a","strokeDash":[2,2],"strokeWidth":1,"clip":true},
   "encoding":{
    "x":{"field":"t","type":"temporal","scale":{"type":"utc","domain":[{"year":2011,"month":11,"date":22,"hours":17,"minutes":22,"utc":true},{"year":2011,"month":11,"date":24,"hours":10,"minutes":32,"utc":true}]}},
    "y":{"field":"p","type":"quantitative","scale":{"domain":[23.5,79.0],"nice":false,"zero":false}}}},
  {"data":{"name":"osig"},"mark":{"type":"line","color":"#ff1a1a","strokeWidth":1.2,"clip":true},
   "encoding":{
    "x":{"field":"t","type":"temporal","scale":{"type":"utc","domain":[{"year":2011,"month":11,"date":22,"hours":17,"minutes":22,"utc":true},{"year":2011,"month":11,"date":24,"hours":10,"minutes":32,"utc":true}]}},
    "y":{"field":"p","type":"quantitative","scale":{"domain":[23.5,79.0],"nice":false,"zero":false}}}},
  {"data":{"name":"orsi"},"mark":{"type":"line","color":"#3cf0ff","strokeWidth":1.8,"clip":true},
   "encoding":{
    "x":{"field":"t","type":"temporal","scale":{"type":"utc","domain":[{"year":2011,"month":11,"date":22,"hours":17,"minutes":22,"utc":true},{"year":2011,"month":11,"date":24,"hours":10,"minutes":32,"utc":true}]}},
    "y":{"field":"p","type":"quantitative","scale":{"domain":[23.5,79.0],"nice":false,"zero":false}}}},
  {"data":{"name":"ocur"},"mark":{"type":"rect","fill":"#00f0ff"},
   "encoding":{
    "x":{"field":"t","type":"temporal","scale":{"type":"utc","domain":[{"year":2011,"month":11,"date":22,"hours":17,"minutes":22,"utc":true},{"year":2011,"month":11,"date":24,"hours":10,"minutes":32,"utc":true}]}},
    "x2":{"field":"t2"},
    "y":{"field":"p","type":"quantitative","scale":{"domain":[23.5,79.0],"nice":false,"zero":false}},
    "y2":{"field":"p2"}}},
  {"data":{"name":"ocur"},"mark":{"type":"text","align":"center","baseline":"middle","color":"#000000","fontSize":8.5},
   "encoding":{
    "x":{"field":"tc","type":"temporal","scale":{"type":"utc","domain":[{"year":2011,"month":11,"date":22,"hours":17,"minutes":22,"utc":true},{"year":2011,"month":11,"date":24,"hours":10,"minutes":32,"utc":true}]}},
    "y":{"field":"pc","type":"quantitative","scale":{"domain":[23.5,79.0],"nice":false,"zero":false}},
    "text":{"field":"label"}}}
 ]
}
]
}
